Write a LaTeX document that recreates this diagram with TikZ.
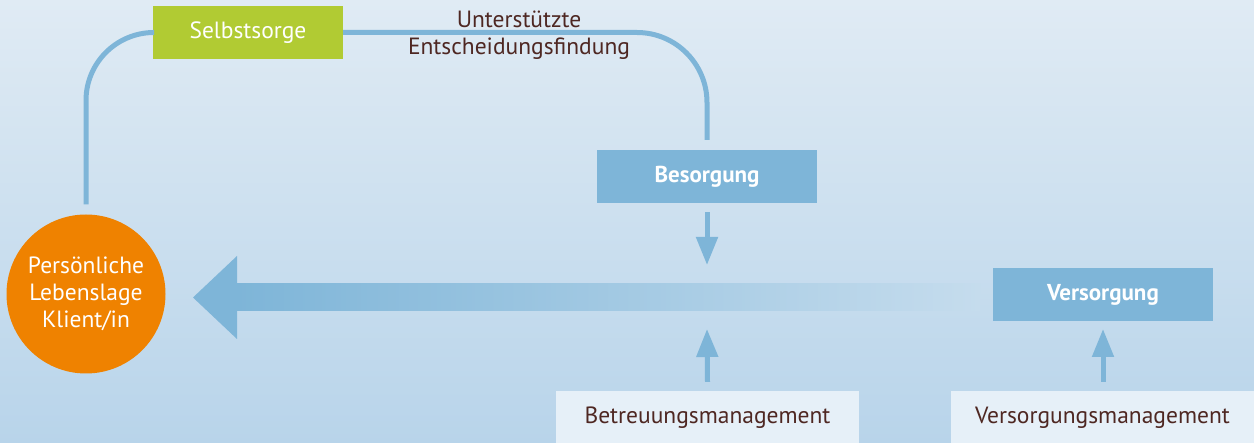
\documentclass[tikz,border=0pt]{standalone}
\usepackage{fontspec}
\setmainfont{PT Sans}
\usetikzlibrary{arrows.meta,calc}
\definecolor{bgtop}{HTML}{E0EBF4}
\definecolor{bgbot}{HTML}{B8D4EA}
\definecolor{bgmid}{HTML}{C5DCED}
\definecolor{flowblue}{HTML}{7EB5D8}
\definecolor{selfgreen}{HTML}{B1CB33}
\definecolor{clientorange}{HTML}{EF8200}
\definecolor{textbrown}{HTML}{4E2722}
\definecolor{mgmtfill}{HTML}{E6F0F8}
\tikzset{
  txt/.style={font=\fontsize{23.5}{27}\selectfont},
  bluebox/.style={fill=flowblue, text=white, minimum width=220, minimum height=53,
                  inner sep=0, font=\fontsize{23}{27}\selectfont\bfseries},
  mgmtbox/.style={fill=mgmtfill, text=textbrown, minimum width=303, minimum height=53,
                  inner sep=0, txt},
  link/.style={draw=flowblue, line width=5},
  feed/.style={draw=flowblue, line width=5, -{Triangle[width=21,length=28]}},
}
\begin{document}
\begin{tikzpicture}[x=1pt,y=-1pt]
  \useasboundingbox (0,0) rectangle (1254,443);
  \clip (0,0) rectangle (1254,443);
  % background
  \shade[top color=bgtop, bottom color=bgbot] (0,0) rectangle (1254,443);

  % client circle
  \node[circle, fill=clientorange, text=white, minimum size=159, inner sep=0,
        align=center, txt] (client) at (86,294) {Persönliche\\Lebenslage\\Klient/in};

  % boxes
  \node[fill=selfgreen, text=white, minimum width=190, minimum height=53, inner sep=0, txt]
        (selbst) at (248,32.5) {Selbstsorge};
  \node[bluebox] (besorg) at (707,176.5) {Besorgung};
  \node[bluebox] (versorg) at (1103,294.5) {Versorgung};
  \node[mgmtbox] (betmgmt) at (707.5,417.5) {Betreuungsmanagement};
  \node[mgmtbox] (vermgmt) at (1102.5,417.5) {Versorgungsmanagement};

  % label on the upper loop
  \node[txt, text=textbrown, align=center, inner sep=0] (decide) at (519,35)
        {Unterstützte\\Entscheidungsfindung};

  % upper loop
  \coordinate (loopstart) at ($(client.north)+(0,-10)$);
  \coordinate (loopend) at ($(besorg.north)+(0,-10)$);
  \draw[link, rounded corners=68] (loopstart) |- (selbst.west);
  \draw[link, rounded corners=70] (selbst.east) -| (loopend);

  % wide arrow towards the client
  \coordinate (bigtip) at (193,297.5);
  \shade[left color=flowblue, right color=bgmid] (236,284) rectangle (980,311);
  \fill[flowblue] (bigtip) -- (237,256) -- (237,339) -- cycle;

  % small arrows
  \coordinate (downtip) at (707,265);
  \coordinate (uptip) at (707,329);
  \coordinate (vuptip) at (1103,329);
  \draw[feed] ($(besorg.south)+(0,9)$) -- (downtip);
  \draw[feed] ($(betmgmt.north)+(0,-9)$) -- (uptip);
  \draw[feed] ($(vermgmt.north)+(0.5,-9)$) -- (vuptip);
\end{tikzpicture}
\end{document}
